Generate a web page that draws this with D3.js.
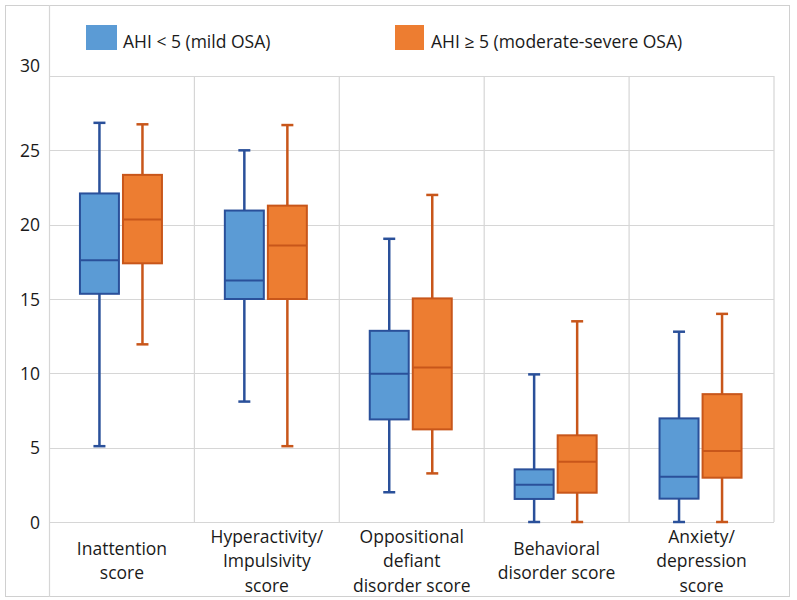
<!DOCTYPE html>
<html>
<head>
<meta charset="utf-8">
<script src="https://cdn.jsdelivr.net/npm/d3@7"></script>
<style>
  html, body { margin: 0; padding: 0; background: #fff; }
  svg { display: block; font-family: "Open Sans", "Noto Sans", sans-serif; }
</style>
</head>
<body>
<svg id="chart" width="797" height="600"></svg>
<script>
// ---- data ----
const categories = ["Inattention", "Hyperactivity", "Oppositional", "Behavioral", "Anxiety"];
const categoryLabels = [
  ["Inattention", "score"],
  ["Hyperactivity/", "Impulsivity", "score"],
  ["Oppositional", "defiant", "disorder score"],
  ["Behavioral", "disorder score"],
  ["Anxiety/", "depression", "score"]
];
const seriesNames = ["AHI < 5 (mild OSA)", "AHI \u2265 5 (moderate-severe OSA)"];

const mildMin    = [5.1, 8.1, 2.0, 0, 0];
const mildQ1     = [15.35, 15.0, 6.9, 1.55, 1.57];
const mildMedian = [17.6, 16.25, 9.97, 2.5, 3.05];
const mildQ3     = [22.1, 20.95, 12.86, 3.54, 6.97];
const mildMax    = [26.85, 25.0, 19.05, 9.93, 12.8];

const sevMin     = [11.95, 5.1, 3.27, 0, 0];
const sevQ1      = [17.4, 15.0, 6.23, 1.97, 2.98];
const sevMedian  = [20.35, 18.6, 10.4, 4.06, 4.77];
const sevQ3      = [23.35, 21.28, 15.04, 5.83, 8.6];
const sevMax     = [26.75, 26.7, 22.0, 13.5, 14.0];

const yTicks = [0, 5, 10, 15, 20, 25, 30];

// ---- build table ----
const series = [
  { name: seriesNames[0], fill: "#5B9BD5", stroke: "#2A509A", min: mildMin, q1: mildQ1, med: mildMedian, q3: mildQ3, max: mildMax },
  { name: seriesNames[1], fill: "#ED7D31", stroke: "#C8561A", min: sevMin, q1: sevQ1, med: sevMedian, q3: sevQ3, max: sevMax }
];
const boxes = [];
series.forEach((s, si) => {
  categories.forEach((c, ci) => {
    boxes.push({ cat: c, s: s, si: si, min: s.min[ci], q1: s.q1[ci], med: s.med[ci], q3: s.q3[ci], max: s.max[ci] });
  });
});

// ---- layout ----
const svg = d3.select("#chart");
const plotLeft = 49.5, plotRight = 774, plotTop = 76, plotBottom = 522;

const x = d3.scaleBand().domain(categories).range([plotLeft, plotRight]).padding(0);
const xs = d3.scaleBand().domain([0, 1]).range([-42, 40]).paddingInner(0.094);
const y = d3.scaleLinear().domain([0, 30]).range([plotBottom, plotTop]);

// outer border
svg.append("rect").attr("x", 5.5).attr("y", 5.5).attr("width", 784).attr("height", 591)
  .attr("fill", "none").attr("stroke", "#d0d0d0").attr("stroke-width", 1);

// horizontal gridlines
svg.append("g").selectAll("line").data(yTicks).join("line")
  .attr("x1", plotLeft).attr("x2", plotRight)
  .attr("y1", d => Math.round(y(d)) + 0.5).attr("y2", d => Math.round(y(d)) + 0.5)
  .attr("stroke", "#d6d6d6").attr("stroke-width", 1.2);

// vertical separators
const seps = categories.slice(1).map(c => x(c)).concat([plotRight]);
svg.append("g").selectAll("line").data(seps).join("line")
  .attr("x1", d => d).attr("x2", d => d)
  .attr("y1", plotTop).attr("y2", plotBottom)
  .attr("stroke", "#d6d6d6").attr("stroke-width", 1.2);
// left axis line full height
svg.append("line").attr("x1", plotLeft).attr("x2", plotLeft).attr("y1", 5).attr("y2", 597)
  .attr("stroke", "#d6d6d6").attr("stroke-width", 1.2);

// y axis labels
const yAxis = d3.axisLeft(y).tickValues(yTicks).tickSize(0).tickPadding(0);
const yg = svg.append("g").attr("transform", `translate(${40},0)`).call(yAxis);
yg.select(".domain").remove();
yg.selectAll("text").attr("font-size", 17.5).attr("fill", "#1a1a1a")
  .attr("font-family", "'Open Sans', sans-serif")
  .attr("dy", "0.35em")
  .attr("transform", d => d === 30 ? "translate(0,-11)" : null);

// category labels
const lh = 24.5, cy = 561;
categoryLabels.forEach((lines, i) => {
  const cx = x(categories[i]) + x.bandwidth() / 2;
  const t = svg.append("text").attr("text-anchor", "middle").attr("font-size", 17.5).attr("fill", "#1a1a1a");
  lines.forEach((ln, j) => {
    t.append("tspan").attr("x", cx)
      .attr("y", cy - (lines.length - 1) * lh / 2 + j * lh + 6)
      .text(ln);
  });
});

// boxes
const bw = xs.bandwidth();
const g = svg.append("g");
const bg = g.selectAll("g.box").data(boxes).join("g").attr("class", "box")
  .attr("transform", d => `translate(${x(d.cat) + x.bandwidth() / 2 + xs(d.si) + bw / 2},0)`);

// whiskers
bg.append("line").attr("x1", 0).attr("x2", 0).attr("y1", d => y(d.q3)).attr("y2", d => y(d.max))
  .attr("stroke", d => d.s.stroke).attr("stroke-width", 2.5);
bg.append("line").attr("x1", 0).attr("x2", 0).attr("y1", d => y(d.q1)).attr("y2", d => y(d.min))
  .attr("stroke", d => d.s.stroke).attr("stroke-width", 2.5);
// caps
bg.append("line").attr("x1", -6).attr("x2", 6).attr("y1", d => y(d.max)).attr("y2", d => y(d.max))
  .attr("stroke", d => d.s.stroke).attr("stroke-width", 2.5);
bg.append("line").attr("x1", -6).attr("x2", 6).attr("y1", d => y(d.min)).attr("y2", d => y(d.min))
  .attr("stroke", d => d.s.stroke).attr("stroke-width", 2.5);
// box
bg.append("rect").attr("x", -bw / 2).attr("width", bw)
  .attr("y", d => y(d.q3)).attr("height", d => y(d.q1) - y(d.q3))
  .attr("fill", d => d.s.fill).attr("stroke", d => d.s.stroke).attr("stroke-width", 2);
// median
bg.append("line").attr("x1", -bw / 2).attr("x2", bw / 2).attr("y1", d => y(d.med)).attr("y2", d => y(d.med))
  .attr("stroke", d => d.s.stroke).attr("stroke-width", 2);

// legend
const legendPos = [{ sx: 86, tx: 123, w: 31 }, { sx: 395, tx: 431, w: 29 }];
const lg = svg.append("g").selectAll("g").data(series).join("g");
lg.append("rect").attr("x", (d, i) => legendPos[i].sx).attr("y", 25)
  .attr("width", (d, i) => legendPos[i].w).attr("height", 25).attr("fill", d => d.fill);
lg.append("text").attr("x", (d, i) => legendPos[i].tx).attr("y", 48)
  .attr("font-size", 17.5).attr("fill", "#1a1a1a").text(d => d.name);
</script>
</body>
</html>
